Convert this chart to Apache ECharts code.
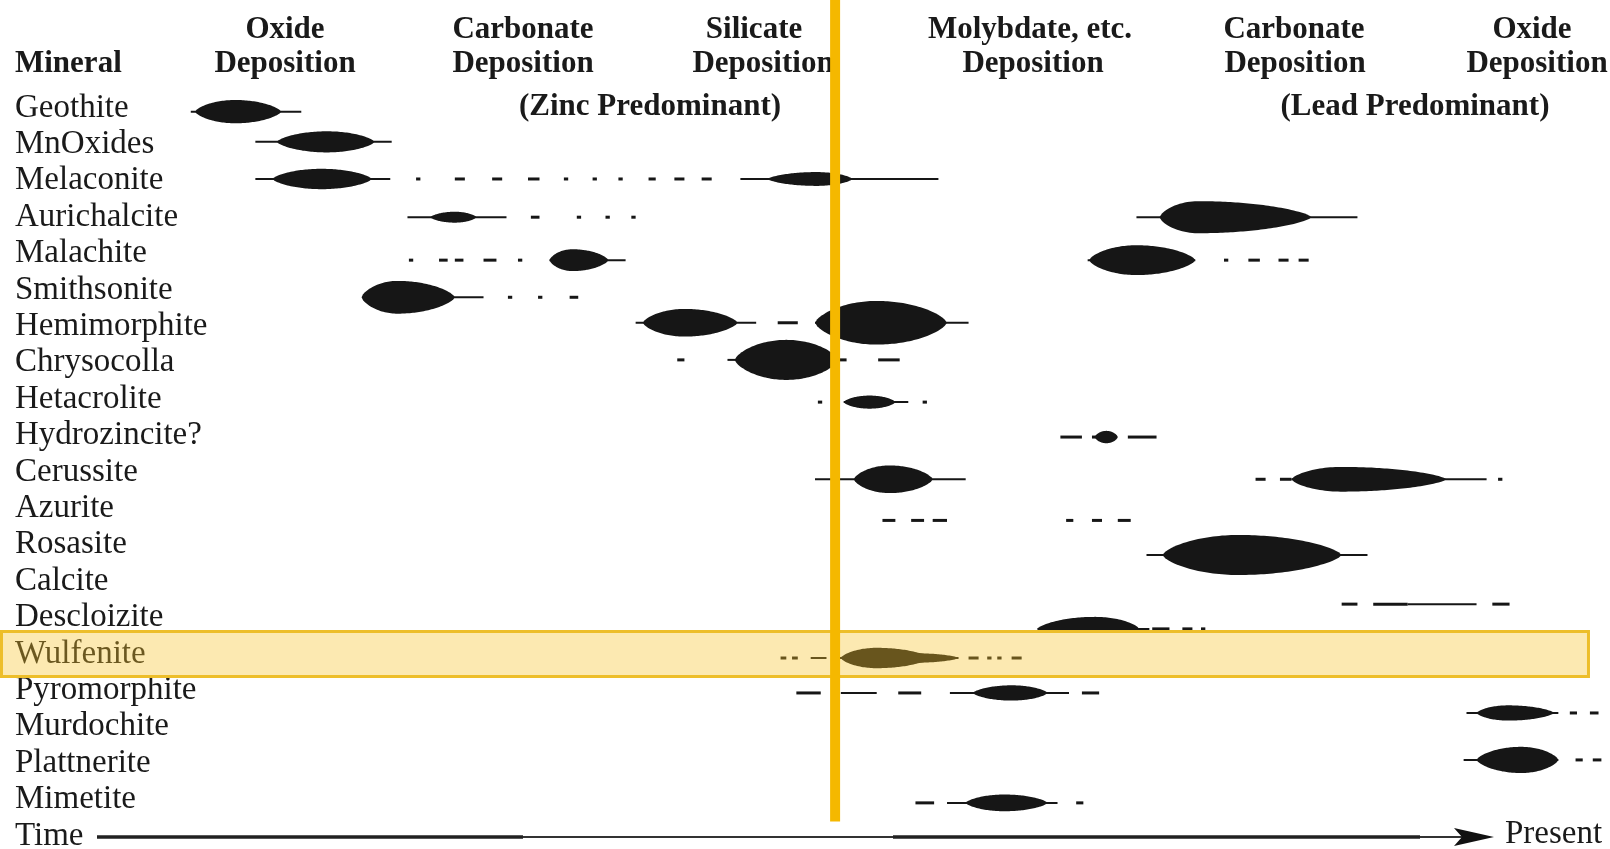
<!DOCTYPE html>
<html>
<head>
<meta charset="utf-8">
<title>Paragenetic sequence</title>
<script src="https://cdn.jsdelivr.net/npm/echarts@6.0.0/dist/echarts.min.js"></script>
<style>
  html, body { margin: 0; padding: 0; background: #fff; }
  #chart { width: 1610px; height: 849px; }
</style>
</head>
<body>
<div id="chart"></div>
<script>
// rows of the table, top to bottom
const minerals = ['Geothite', 'MnOxides', 'Melaconite', 'Aurichalcite', 'Malachite', 'Smithsonite',
  'Hemimorphite', 'Chrysocolla', 'Hetacrolite', 'Hydrozincite?', 'Cerussite', 'Azurite', 'Rosasite',
  'Calcite', 'Descloizite', 'Wulfenite', 'Pyromorphite', 'Murdochite', 'Plattnerite', 'Mimetite']

// vertical level (row units) at which each mineral's marks sit in the scan
const rowLevel = [0.1, 0.93, 1.95, 3.0, 4.18, 5.2, 5.9, 6.92, 8.08, 9.04, 10.2, 11.33, 12.28,
  13.63, 14.31, 15.11, 16.07, 16.62, 17.91, 19.09]

// time runs 0..100 (left -> present)
// spindles: [mineral, start, peak, end, half thickness in rows]
const spindles = [
  [0, 1.4, 4.2, 7.4, 0.32],
  [1, 7.1, 10.6, 13.9, 0.29],
  [2, 6.8, 10.2, 13.7, 0.28],
  [2, 41.3, 44.7, 47.2, 0.19],
  [3, 17.8, 19.5, 21.0, 0.15],
  [3, 68.6, 71.3, 79.2, 0.44],
  [4, 26.1, 27.7, 30.2, 0.30],
  [4, 63.7, 67.0, 71.1, 0.41],
  [5, 13.0, 15.5, 19.5, 0.45],
  [6, 32.6, 35.5, 39.2, 0.38],
  [6, 44.6, 48.9, 53.8, 0.60],
  [7, 39.0, 42.6, 46.2, 0.55],
  [8, 46.6, 48.4, 50.2, 0.18],
  [9, 64.1, 64.9, 65.7, 0.17],
  [10, 47.3, 49.8, 52.8, 0.38],
  [10, 77.8, 81.3, 88.6, 0.34],
  [12, 68.8, 74.1, 81.3, 0.55],
  [15, 46.4, 48.9, 52.6, 0.28],
  [15, 49.1, 51.6, 54.6, 0.13],
  [16, 55.6, 58.3, 60.8, 0.21],
  [17, 90.7, 92.9, 96.1, 0.21],
  [18, 90.7, 93.8, 96.4, 0.36],
  [19, 55.1, 57.8, 60.8, 0.23]
]

// spindles of which only the upper half shows
const halfSpindles = [
  [14, 60.1, 64.1, 67.2, 0.33]
]

// continuous thin lines: [mineral, start, end]
const strokes = [
  [0, 1.1, 8.8], [1, 5.6, 15.1], [2, 5.6, 15.0], [2, 39.4, 53.2],
  [3, 16.2, 23.1], [3, 67.0, 82.4], [4, 26.1, 31.4], [4, 63.6, 71.1],
  [5, 19.0, 21.5], [6, 32.1, 40.5], [6, 44.6, 55.3], [7, 38.5, 39.5],
  [8, 46.6, 51.1], [10, 44.6, 55.1], [10, 77.8, 91.4], [12, 67.7, 83.1],
  [13, 85.9, 90.7], [14, 60.1, 67.9], [15, 44.3, 45.4], [15, 46.0, 54.6],
  [16, 46.4, 48.9], [16, 54.0, 62.3], [17, 90.0, 96.4], [18, 89.8, 96.4],
  [19, 53.8, 61.5]
]

// broken marks (dashes and dots): [mineral, start, end]
const dashes = [
  [2, 16.8, 17.1], [2, 19.5, 20.2], [2, 22.1, 22.8], [2, 24.6, 25.4], [2, 27.1, 27.4],
  [2, 29.1, 29.4], [2, 30.9, 31.2], [2, 33.0, 33.5], [2, 34.8, 35.5], [2, 36.7, 37.4],
  [3, 24.8, 25.4], [3, 28.0, 28.3], [3, 30.0, 30.3], [3, 31.8, 32.1],
  [4, 16.3, 16.6], [4, 18.4, 19.0], [4, 19.5, 20.1], [4, 21.5, 22.4], [4, 23.9, 24.2],
  [4, 73.1, 73.4], [4, 74.8, 75.6], [4, 76.9, 77.6], [4, 78.3, 79.0],
  [5, 23.2, 23.5], [5, 25.3, 25.6], [5, 27.5, 28.1],
  [6, 42.0, 43.4],
  [7, 35.0, 35.5], [7, 46.3, 46.8], [7, 49.0, 50.5],
  [8, 44.8, 45.1], [8, 52.1, 52.4],
  [9, 61.7, 63.2], [9, 63.9, 64.5], [9, 66.4, 68.4],
  [10, 75.3, 76.0], [10, 77.0, 77.8], [10, 92.2, 92.5],
  [11, 49.3, 50.2], [11, 51.3, 52.2], [11, 52.8, 53.8], [11, 62.1, 62.6], [11, 63.9, 64.6], [11, 65.7, 66.6],
  [13, 81.3, 82.4], [13, 83.5, 85.9], [13, 91.8, 93.0],
  [14, 68.1, 69.3], [14, 70.2, 70.9], [14, 71.5, 71.8],
  [15, 42.2, 42.6], [15, 43.0, 43.4], [15, 55.3, 56.0], [15, 56.6, 56.9], [15, 57.3, 57.6], [15, 58.3, 59.0],
  [16, 43.3, 45.0], [16, 50.4, 52.0], [16, 63.2, 64.4],
  [17, 97.2, 97.7], [17, 98.6, 99.2],
  [18, 97.6, 98.1], [18, 98.8, 99.4],
  [19, 51.6, 52.9], [19, 62.8, 63.3]
]

const stageBoundary = 46.0   // zinc stage -> lead stage
const highlightRow = 15      // Wulfenite

const serif = '"Liberation Serif", "DejaVu Serif", serif'
const ink = '#161616'

var chart = echarts.init(document.getElementById('chart'))

function renderLens(params, api, upperOnly) {
  var a = api.value(0), lv = api.value(1), p = api.value(2), b = api.value(3), h = api.value(4)
  var half = h * api.size([0, 1])[1]
  var top = [], bottom = []
  var n = 60
  for (var i = 0; i <= n; i++) {
    var t = a + (b - a) * i / n
    var u = t < p ? (t - p) / (p - a) : (t - p) / (b - p)
    // rounded belly, pointed ends
    var w = half * Math.pow(Math.max(0, 1 - u * u), 0.7)
    var c = api.coord([t, lv])
    top.push([c[0], c[1] - w])
    bottom.push([c[0], c[1] + w])
  }
  var pts = upperOnly ? top : top.concat(bottom.reverse())
  return { type: 'polygon', shape: { points: pts }, style: { fill: ink } }
}

function renderSegment(width) {
  return function(params, api) {
    var p0 = api.coord([api.value(0), api.value(1)])
    var p1 = api.coord([api.value(2), api.value(1)])
    return {
      type: 'line',
      shape: { x1: p0[0], y1: p0[1], x2: p1[0], y2: p1[1] },
      style: { stroke: ink, lineWidth: width }
    }
  }
}

function lensData(list) {
  return list.map(function(s) { return [s[1], rowLevel[s[0]], s[2], s[3], s[4]] })
}
function segData(list) {
  return list.map(function(s) { return [s[1], rowLevel[s[0]], s[2]] })
}

function headerText(text, x, y, align, bold) {
  return {
    type: 'text', x: x, y: y, z: 1,
    style: {
      text: text, fill: '#1a1a1a', align: align, verticalAlign: 'middle',
      font: (bold ? 'bold 31px ' : '33px ') + serif
    }
  }
}

chart.setOption({
  animation: false,
  grid: { left: 175, right: 0, top: 89.8, height: 728 },
  xAxis: { type: 'value', min: 0, max: 100, show: false },
  yAxis: [{
    type: 'category',
    data: minerals,
    inverse: true,
    axisLine: { show: false },
    axisTick: { show: false },
    splitLine: { show: false },
    axisLabel: {
      interval: 0, align: 'left', margin: 160, fontSize: 33, fontFamily: serif, color: '#1a1a1a'
    }
  }, {
    type: 'value', min: -0.5, max: 19.5, inverse: true, show: false
  }],
  graphic: [
    headerText('Mineral', 15, 64, 'left', true),
    headerText('Oxide', 285, 30, 'center', true),
    headerText('Deposition', 285, 64, 'center', true),
    headerText('Carbonate', 523, 30, 'center', true),
    headerText('Deposition', 523, 64, 'center', true),
    headerText('Silicate', 754, 30, 'center', true),
    headerText('Deposition', 763, 64, 'center', true),
    headerText('(Zinc Predominant)', 650, 107, 'center', true),
    headerText('Molybdate, etc.', 1030, 30, 'center', true),
    headerText('Deposition', 1033, 64, 'center', true),
    headerText('Carbonate', 1294, 30, 'center', true),
    headerText('Deposition', 1295, 64, 'center', true),
    headerText('Oxide', 1532, 30, 'center', true),
    headerText('Deposition', 1537, 64, 'center', true),
    headerText('(Lead Predominant)', 1415, 107, 'center', true),
    headerText('Time', 15, 836, 'left', false),
    headerText('Present', 1505, 834, 'left', false),
    { type: 'line', z: 1, shape: { x1: 97, y1: 837, x2: 1462, y2: 837 }, style: { stroke: '#333', lineWidth: 2 } },
    { type: 'line', z: 1, shape: { x1: 97, y1: 837, x2: 523, y2: 837 }, style: { stroke: '#222', lineWidth: 3.5 } },
    { type: 'line', z: 1, shape: { x1: 893, y1: 837, x2: 1420, y2: 837 }, style: { stroke: '#222', lineWidth: 3.5 } },
    { type: 'polygon', z: 1, shape: { points: [[1454, 828], [1494, 837], [1454, 846], [1462, 837]] }, style: { fill: '#111' } }
  ],
  series: [{
    type: 'custom', name: 'strokes', yAxisIndex: 1, silent: true, z: 2,
    renderItem: renderSegment(2),
    encode: { x: [0, 2], y: 1 },
    data: segData(strokes)
  }, {
    type: 'custom', name: 'dashes', yAxisIndex: 1, silent: true, z: 2,
    renderItem: renderSegment(3),
    encode: { x: [0, 2], y: 1 },
    data: segData(dashes)
  }, {
    type: 'custom', name: 'spindles', yAxisIndex: 1, silent: true, z: 3,
    renderItem: function(params, api) { return renderLens(params, api, false) },
    encode: { x: [0, 2, 3], y: 1 },
    data: lensData(spindles)
  }, {
    type: 'custom', name: 'halfSpindles', yAxisIndex: 1, silent: true, z: 3,
    renderItem: function(params, api) { return renderLens(params, api, true) },
    encode: { x: [0, 2, 3], y: 1 },
    data: lensData(halfSpindles)
  }, {
    type: 'custom', name: 'highlight', yAxisIndex: 1, silent: true, z: 5,
    renderItem: function(params, api) {
      var c = api.coord([0, api.value(1)])
      var band = api.size([0, 1])[1]
      var right = api.coord([98.5, api.value(1)])[0]
      return {
        type: 'rect',
        shape: { x: 1.5, y: c[1] - 0.62 * band, width: right - 1.5, height: 1.24 * band },
        style: { fill: 'rgba(247,196,43,0.37)', stroke: '#EDBE2A', lineWidth: 3 }
      }
    },
    encode: { x: 0, y: 1 },
    data: [[0, highlightRow]]
  }, {
    type: 'custom', name: 'boundary', yAxisIndex: 1, silent: true, z: 6,
    renderItem: function(params, api) {
      var c = api.coord([api.value(0), 19.6])
      return {
        type: 'rect',
        shape: { x: c[0] - 5, y: 0, width: 10, height: c[1] },
        style: { fill: '#F5B800' }
      }
    },
    encode: { x: 0 },
    data: [[stageBoundary, 0]]
  }]
})
</script>
</body>
</html>
